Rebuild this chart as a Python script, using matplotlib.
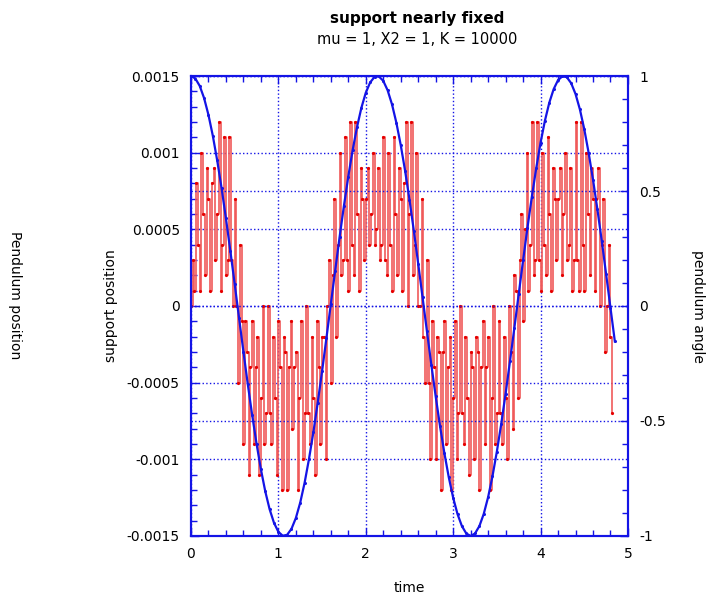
import numpy as np
import matplotlib.pyplot as plt
from matplotlib.ticker import MultipleLocator

plt.rcParams['font.family'] = ['DejaVu Sans']

# support position (units of 1e-4), one sample every 0.02
support_e4 = [
    0, 3, 1, 8, 4, 1, 10, 6, 2, 9, 7, 1, 8, 9, 3, 6, 12, 1, 4, 11, 2, 3, 11,
    3, 0, 7, 0, -5, 4, -1, -9, -1,
    -3, -11, -4, -1, -9, -4, -2, -11, -6, 0, -9, -7,
    0, -7, -9, -2, -6, -11, -1, -4, -12, -2,
    -3, -12, -4, -1, -8, -4, -3, -12, -6, -1, -10, -7,
    0, -7, -9, -2, -6, -11, -1, -4, -9, -2,
    -2, -10, 0, 3, -5, 2, 7, -2, 4,
    10, 2, 3,
    11, 3, 1, 12, 4, 2, 12, 6, 1, 9, 7,
    3, 7, 9, 4, 6, 10, 4, 5, 9, 3, 4,
    11, 3, 2, 10, 4, 1, 11, 6, 2, 9, 7,
    1, 8, 12, 0, 6, 12, 2, 4,
    10, 0, 0, 7, -2, -5, 3, -5, -10,
    -1, -4, -10, -2, -3,
    -12, -3, -1, -9, -4, -2, -12, -6, -1, -10, -7,
    0, -7, -9, -2, -6, -11, -3, -4, -10, -2, -3,
    -12, -4, -1, -9, -4, -2, -12, -6, 0, -9, -7,
    -1, -7, -9, -2, -6, -10,
    0, -3, -8, 2, 1, -6, 3, 6, -1, 5,
    10, 1, 4, 12, 2, 3,
    12, 3, 1, 10, 4, 2, 11, 6, 1, 9, 7,
    3, 7, 9, 2, 6, 10, 3, 4, 9, 1, 3,
    12, 3, 1, 12, 4, 1, 10, 6, 2, 9, 7, 1, 7, 9,
    0, 4, 7, -3, 0, 4, -2, -7]
support_dt = 0.02

# pendulum angle, one sample every 0.05
angle = [1.000, 0.989, 0.957, 0.904, 0.831, 0.740, 0.633, 0.513, 0.381, 0.241,
         0.096, -0.052, -0.198, -0.340, -0.474, -0.598, -0.710, -0.806, -0.884, -0.943,
         -0.982, -0.999, -0.995, -0.969, -0.922, -0.855, -0.769, -0.666, -0.550, -0.421,
         -0.284, -0.139, 0.008, 0.154, 0.298, 0.435, 0.563, 0.678, 0.778, 0.862,
         0.927, 0.972, 0.996, 0.998, 0.979, 0.938, 0.877, 0.797, 0.700, 0.588,
         0.463, 0.327, 0.184, 0.037, -0.110, -0.255, -0.393, -0.523, -0.641, -0.745,
         -0.834, -0.905, -0.957, -0.989, -1.000, -0.989, -0.957, -0.904, -0.831, -0.740,
         -0.633, -0.513, -0.381, -0.241, -0.096, 0.052, 0.198, 0.340, 0.474, 0.598,
         0.710, 0.806, 0.884, 0.943, 0.982, 0.999, 0.995, 0.969, 0.922, 0.855,
         0.769, 0.666, 0.550, 0.421, 0.284, 0.139, -0.008, -0.154]
angle_dt = 0.05

x_ticks = [0, 1, 2, 3, 4, 5]
left_ticks = [-0.0015, -0.001, -0.0005, 0, 0.0005, 0.001, 0.0015]
left_labels = ['-0.0015', '-0.001', '-0.0005', '0', '0.0005', '0.001', '0.0015']
right_ticks = [-1, -0.5, 0, 0.5, 1]
right_labels = ['-1', '-0.5', '0', '0.5', '1']

t_support = np.arange(len(support_e4)) * support_dt
support = np.array(support_e4) * 1e-4
t_angle = np.arange(len(angle)) * angle_dt

blue = '#1414e6'
red = '#e60000'

fig = plt.figure(figsize=(7.11, 5.98), dpi=100)
ax = fig.add_axes([0.2686, 0.1037, 0.6146, 0.7692])
ax2 = ax.twinx()

# red trace on the left axis
ax.plot(t_support, support, color='#f05a5a', lw=1.2, drawstyle='steps-post')
ax.plot(t_support, support, 'o', color=red, ms=2.3, mec='none')

# blue trace on the right axis
ax2.plot(t_angle, angle, color=blue, lw=1.6, marker='o', ms=2.2, mec='none')

ax.set_xlim(0, 5)
ax.set_ylim(-0.0015, 0.0015)
ax2.set_ylim(-1, 1)

ax.set_xticks(x_ticks)
ax.set_xticklabels([str(v) for v in x_ticks])
ax.xaxis.set_minor_locator(MultipleLocator(0.2))
ax.set_yticks(left_ticks)
ax.set_yticklabels(left_labels)
ax.yaxis.set_minor_locator(MultipleLocator(0.0001))
ax2.set_yticks(right_ticks)
ax2.set_yticklabels(right_labels)
ax2.yaxis.set_minor_locator(MultipleLocator(0.1))

ax.tick_params(which='both', direction='in', color=blue, top=True, right=False)
ax.tick_params(which='major', length=6, width=1, labelsize=10, pad=8)
ax.tick_params(which='minor', length=4, width=1)
ax2.tick_params(which='both', direction='in', color=blue)
ax2.tick_params(which='major', length=6, width=1, labelsize=10, pad=8)
ax2.tick_params(which='minor', length=4, width=1)

for a in (ax, ax2):
    for s in a.spines.values():
        s.set_color(blue)
        s.set_linewidth(1.5)

ax.grid(True, which='major', color=blue, ls=':', lw=1)
ax2.grid(True, which='major', axis='y', color=blue, ls=':', lw=1)
ax2.set_axisbelow(True)

ax.set_xlabel('time', fontsize=10, labelpad=14)
ax.set_ylabel('support position', fontsize=10, labelpad=6)
ax2.set_ylabel('pendulum angle', fontsize=10, rotation=270, labelpad=28)
fig.text(15 / 711, 1 - 295 / 598, 'Pendulum position', rotation=270,
         fontsize=10, ha='center', va='center')

fig.text(417 / 711, 1 - 18 / 598, 'support nearly fixed', fontsize=11,
         fontweight='bold', ha='center', va='center')
fig.text(417 / 711, 1 - 40 / 598, 'mu = 1, X2 = 1, K = 10000', fontsize=10.5,
         ha='center', va='center')

fig.savefig('out.png', dpi=100)
